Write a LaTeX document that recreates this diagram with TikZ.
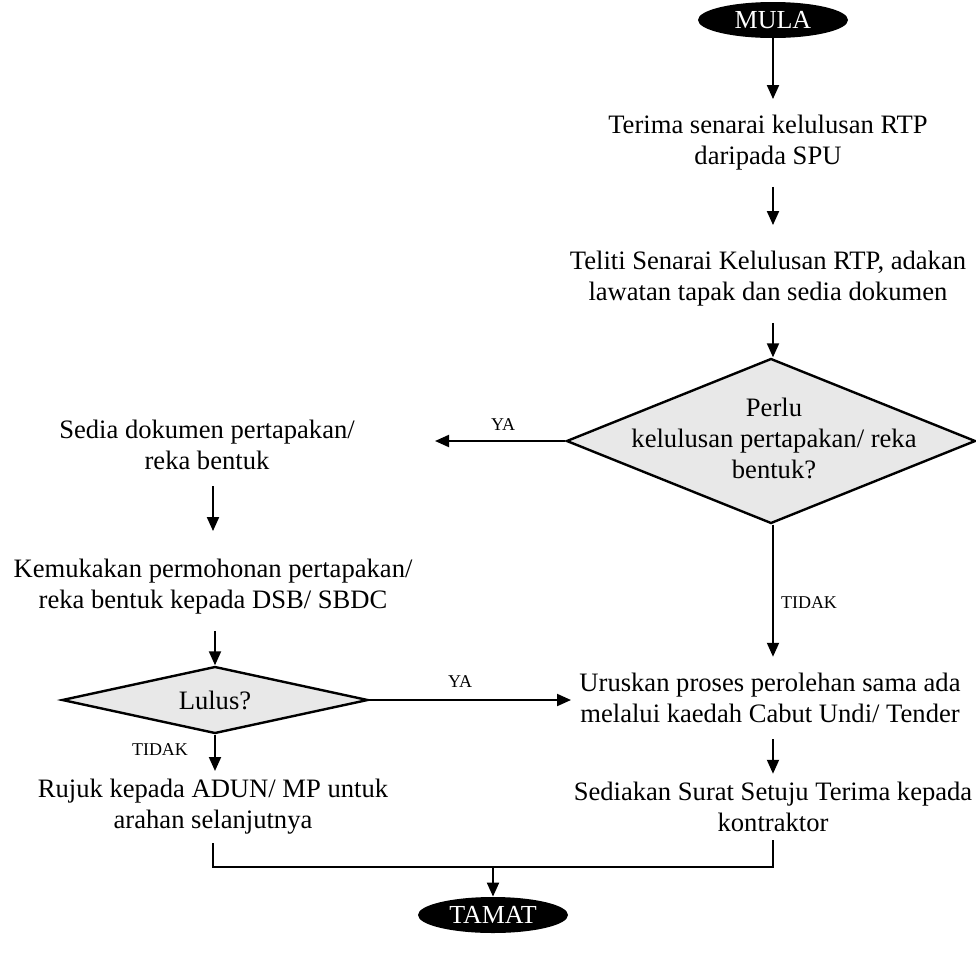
\documentclass[tikz,border=0pt]{standalone}
\usepackage{fontspec}
\setmainfont{Liberation Serif}
\usetikzlibrary{arrows.meta,positioning,shapes.geometric,calc}

\tikzset{
    langkah/.style={align=center, inner xsep=4pt, inner ysep=8pt, font=\fontsize{13.3}{15.5}\selectfont},
    hujung/.style={ellipse, fill=black, text=white, minimum width=75pt, minimum height=18pt, inner sep=0pt, font=\fontsize{13}{15}\selectfont},
    keputusan/.style={diamond, draw, line width=1.2pt, fill=gray!18, inner sep=0pt},
    label/.style={font=\fontsize{9}{10}\selectfont},
    anak/.style={line width=1pt, -{Triangle[width=6pt,length=7pt]}},
    garis/.style={line width=1pt}
}

\begin{document}
\begin{tikzpicture}[x=0.5pt,y=-0.5pt]
    \useasboundingbox (0,0) rectangle (976,965);
    % lajur kanan
    \node[hujung] (mula) at (773,20) {MULA};
    \node[langkah] (terima) at (768,143) {Terima senarai kelulusan RTP\\daripada SPU};
    \node[langkah] (teliti) at (768,279) {Teliti Senarai Kelulusan RTP, adakan\\lawatan tapak dan sedia dokumen};
    \node[keputusan, minimum width=204.5pt, minimum height=82.5pt] (perlu) at (771,441) {};
    \node[langkah, inner ysep=0pt] (perluteks) at (774,438) {Perlu\\kelulusan pertapakan/ reka\\bentuk?};
    \node[langkah] (urus) at (770,698) {Uruskan proses perolehan sama ada\\melalui kaedah Cabut Undi/ Tender};
    \node[langkah, inner ysep=4pt] (sediakan) at (773,807) {Sediakan Surat Setuju Terima kepada\\kontraktor};
    % lajur kiri
    \node[langkah] (sedia) at (207,445) {Sedia dokumen pertapakan/\\reka bentuk};
    \node[langkah] (kemuka) at (213,587) {Kemukakan permohonan pertapakan/\\reka bentuk kepada DSB/ SBDC};
    \node[keputusan, minimum width=153pt, minimum height=33.5pt] (lulus) at (215,700) {};
    \node[langkah, inner ysep=0pt] at (lulus.center) {Lulus?};
    \node[langkah, inner ysep=4pt] (rujuk) at (213,807) {Rujuk kepada ADUN/ MP untuk\\arahan selanjutnya};
    \node[hujung] (tamat) at (493,915) {TAMAT};

    \coordinate (kiriya) at (435,441);
    \coordinate (gabung) at (493,867);

    % anak panah
    \draw[anak] (mula) -- (mula |- terima.north);
    \draw[anak, shorten >=5pt] (terima.south -| mula) -- (mula |- teliti.north);
    \draw[anak] (teliti.south -| mula) -- (mula |- perlu.north);
    \draw[anak] (perlu.west) -- (kiriya);
    \node[label] at (503,425) {YA};
    \draw[anak] (perlu.south -| mula) -- (mula |- urus.north);
    \node[label] at (809,603) {TIDAK};
    \draw[anak] (urus.south -| mula) -- (mula |- sediakan.north);
    \draw[anak, shorten >=6pt] (kemuka.north |- sedia.south) -- (kemuka.north);
    \draw[anak] (kemuka.south -| lulus) -- (lulus.north);
    \draw[anak] (lulus.east) -- (lulus.east -| urus.west);
    \node[label] at (460,682) {YA};
    \draw[anak] (lulus.south) -- (lulus.south |- rujuk.north);
    \node[label] at (160,750) {TIDAK};
    \draw[garis] (rujuk.south) |- (gabung) -| (sediakan.south -| mula);
    \draw[anak] (gabung) -- (tamat.north);
\end{tikzpicture}
\end{document}
